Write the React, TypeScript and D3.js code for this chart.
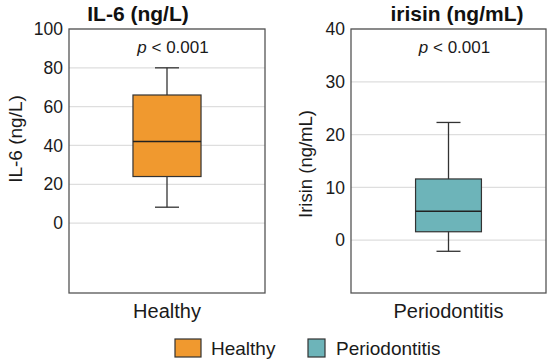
import React, { useEffect, useRef } from 'react';
import * as d3 from 'd3';

// box stats: [whiskerLow, q1, median, q3, whiskerHigh]
const groups = ['Healthy', 'Periodontitis'];
const titles = ['IL-6 (ng/L)', 'irisin (ng/mL)'];
const yLabels = ['IL-6 (ng/L)', 'Irisin (ng/mL)'];
const il6Stats = [8.2, 24, 42, 66, 80];
const irisinStats = [-2.1, 1.6, 5.5, 11.6, 22.3];
const il6Ticks = [0, 20, 40, 60, 80, 100];
const irisinTicks = [0, 10, 20, 30, 40];
const pText = '< 0.001';
const colors = ['#F0992F', '#6DB4B9'];

const App: React.FC = () => {
  const svgRef = useRef<SVGSVGElement | null>(null);

  useEffect(() => {
    if (!svgRef.current) return;
    const svg = d3.select(svgRef.current);
    svg.selectAll('*').remove();

    const font = 'Liberation Sans, Arial, sans-serif';

    const panels = [
      { stats: il6Stats, ticks: il6Ticks, domain: [-36, 100], x0: 69, x1: 265, pad: 0.94, titleX: 138, yLabX: 15, yLabY: 139, yLabSize: 19 },
      { stats: irisinStats, ticks: irisinTicks, domain: [-10, 40], x0: 351, x1: 546, pad: 0.98, titleX: 457, yLabX: 305, yLabY: 164, yLabSize: 18.5 },
    ];
    const top = 29;
    const bottom = 293;

    panels.forEach((p, i) => {
      const y = d3.scaleLinear().domain(p.domain).range([bottom, top]);
      const x = d3.scaleBand().domain([groups[i]]).range([p.x0, p.x1]).paddingInner(0).paddingOuter(p.pad);
      const g = svg.append('g');

      // gridlines
      g.selectAll('line.grid')
        .data(p.ticks)
        .enter()
        .append('line')
        .attr('x1', p.x0)
        .attr('x2', p.x1)
        .attr('y1', d => y(d))
        .attr('y2', d => y(d))
        .attr('stroke', '#dedede')
        .attr('stroke-width', 1.2);

      // tick labels
      g.selectAll('text.tick')
        .data(p.ticks)
        .enter()
        .append('text')
        .attr('x', p.x0 - 6)
        .attr('y', d => y(d))
        .attr('dy', '0.35em')
        .attr('text-anchor', 'end')
        .style('font-family', font)
        .style('font-size', '17.5px')
        .style('fill', '#1a1a1a')
        .text(d => d);

      const s = p.stats;
      const bx = x(groups[i]) as number;
      const bw = x.bandwidth();
      const cx = bx + bw / 2;
      const capW = 24;

      // whiskers
      g.append('line')
        .attr('x1', cx).attr('x2', cx)
        .attr('y1', y(s[0])).attr('y2', y(s[4]))
        .attr('stroke', '#333').attr('stroke-width', 1.3);
      [s[0], s[4]].forEach(v => {
        g.append('line')
          .attr('x1', cx - capW / 2).attr('x2', cx + capW / 2)
          .attr('y1', y(v)).attr('y2', y(v))
          .attr('stroke', '#333').attr('stroke-width', 1.3);
      });

      // box
      g.append('rect')
        .attr('x', bx)
        .attr('y', y(s[3]))
        .attr('width', bw)
        .attr('height', y(s[1]) - y(s[3]))
        .attr('fill', colors[i])
        .attr('stroke', '#333')
        .attr('stroke-width', 1.2);
      g.append('line')
        .attr('x1', bx).attr('x2', bx + bw)
        .attr('y1', y(s[2])).attr('y2', y(s[2]))
        .attr('stroke', '#222').attr('stroke-width', 1.5);

      // frame
      g.append('rect')
        .attr('x', p.x0)
        .attr('y', top)
        .attr('width', p.x1 - p.x0)
        .attr('height', bottom - top)
        .attr('fill', 'none')
        .attr('stroke', '#555')
        .attr('stroke-width', 1.3);

      // title
      g.append('text')
        .attr('x', p.titleX)
        .attr('y', 21)
        .attr('text-anchor', 'middle')
        .style('font-family', font)
        .style('font-size', '21px')
        .style('font-weight', 'bold')
        .style('fill', '#111')
        .text(titles[i]);

      // p value
      const pt = g.append('text')
        .attr('x', cx + 6)
        .attr('y', 53)
        .attr('text-anchor', 'middle')
        .style('font-family', font)
        .style('font-size', '17px')
        .style('fill', '#1a1a1a');
      pt.append('tspan').style('font-style', 'italic').text('p');
      pt.append('tspan').text(' ' + pText);

      // y label
      g.append('text')
        .attr('transform', `translate(${p.yLabX + 6.5}, ${p.yLabY}) rotate(-90)`)
        .attr('text-anchor', 'middle')
        .style('font-family', font)
        .style('font-size', `${p.yLabSize}px`)
        .style('fill', '#1a1a1a')
        .text(yLabels[i]);

      // x label
      g.append('text')
        .attr('x', cx)
        .attr('y', 318)
        .attr('text-anchor', 'middle')
        .style('font-family', font)
        .style('font-size', '20px')
        .style('fill', '#1a1a1a')
        .text(groups[i]);
    });

    // legend
    const legendItems = [
      { x: 175, w: 26, textX: 211 },
      { x: 308, w: 17, textX: 336 },
    ];
    legendItems.forEach((l, i) => {
      svg.append('rect')
        .attr('x', l.x)
        .attr('y', 339)
        .attr('width', l.w)
        .attr('height', 18)
        .attr('fill', colors[i])
        .attr('stroke', '#333')
        .attr('stroke-width', 1.2);
      svg.append('text')
        .attr('x', l.textX)
        .attr('y', 355)
        .style('font-family', font)
        .style('font-size', '19px')
        .style('fill', '#1a1a1a')
        .text(groups[i]);
    });
  }, []);

  return <svg ref={svgRef} width={550} height={361} style={{ position: 'absolute', left: 0, top: 0 }} />;
};

export default App;
